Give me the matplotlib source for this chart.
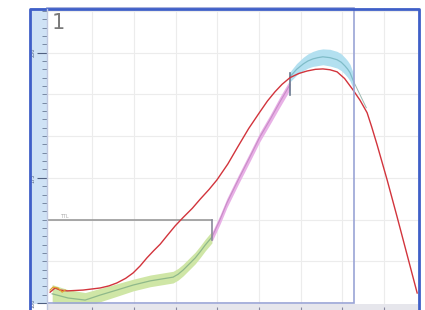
import matplotlib
matplotlib.use("Agg")
import matplotlib.pyplot as plt
from matplotlib.patches import Rectangle
import numpy as np

# x in minutes, y in grid units (one grid step per unit)
red_x = [-0.01, 0.11, 0.23, 0.40, 0.78, 1.19, 1.40, 1.59, 1.80, 1.98, 2.15, 2.31,
         2.47, 2.63, 2.80, 2.99, 3.18, 3.40, 3.59, 3.80, 3.99, 4.25, 4.50, 4.75,
         5.02, 5.20, 5.38, 5.55, 5.74, 5.95, 6.15, 6.35, 6.53, 6.70, 6.87, 7.05,
         7.25, 7.42, 7.59, 7.70, 7.83, 8.07, 8.31, 8.55, 8.79]
red_y = [0.26, 0.36, 0.31, 0.29, 0.31, 0.36, 0.41, 0.48, 0.59, 0.72, 0.89, 1.08,
         1.25, 1.41, 1.62, 1.85, 2.05, 2.27, 2.49, 2.72, 2.95, 3.33, 3.76, 4.18,
         4.58, 4.84, 5.06, 5.24, 5.40, 5.50, 5.56, 5.60, 5.61, 5.59, 5.54, 5.38,
         5.11, 4.86, 4.56, 4.22, 3.79, 2.95, 2.06, 1.15, 0.24]

orange_x = [-0.01, 0.06, 0.18, 0.28, 0.35]
orange_y = [0.31, 0.38, 0.36, 0.26, 0.31]

green_x = [0.04, 0.42, 0.83, 1.19, 1.59, 1.98, 2.39, 2.94, 3.06, 3.18, 3.32, 3.47,
           3.59, 3.71, 3.87]
green_y = [0.22, 0.12, 0.07, 0.19, 0.31, 0.43, 0.53, 0.62, 0.69, 0.79, 0.93, 1.08,
           1.23, 1.39, 1.58]
green_w = [0.22, 0.20, 0.18, 0.16, 0.15, 0.14, 0.14, 0.14, 0.14, 0.14, 0.14, 0.14,
           0.14, 0.14, 0.14]

pink_x = [3.87, 4.06, 4.23, 4.50, 4.78, 5.02, 5.26, 5.50, 5.74]
pink_y = [1.58, 1.99, 2.40, 2.95, 3.50, 3.98, 4.39, 4.82, 5.23]
pink_w = [0.11, 0.11, 0.11, 0.11, 0.11, 0.11, 0.11, 0.12, 0.12]

blue_x = [5.74, 5.90, 6.06, 6.17, 6.29, 6.41, 6.53, 6.70, 6.87, 6.97, 7.06, 7.12,
          7.18, 7.22, 7.27]
blue_y = [5.42, 5.60, 5.73, 5.80, 5.85, 5.88, 5.90, 5.88, 5.83, 5.77, 5.68, 5.61,
          5.52, 5.42, 5.30]
blue_w = [0.12, 0.14, 0.16, 0.17, 0.18, 0.19, 0.19, 0.20, 0.20, 0.20, 0.20, 0.20,
          0.20, 0.19, 0.19]
tail_x = [7.27, 7.42, 7.57]
tail_y = [5.30, 4.99, 4.68]

ttl_level = 1.99
ttl_end = 3.87
mark_x = 5.74
box_right = 7.28
ruler_labels = ["100", "175", "250"]

fig = plt.figure(figsize=(4.25, 3.10), dpi=100)
W, H = 425.0, 310.0
xlim = (-0.084, 8.81)
ylim = (-0.024, 7.07)

ax = fig.add_axes([47 / W, 6 / H, 371 / W, 296 / H])
ax.set_xlim(*xlim)
ax.set_ylim(*ylim)
for k in range(1, 9):
    ax.axvline(k, color="#ececec", lw=0.8, zorder=0)
for k in range(1, 8):
    ax.axhline(k, color="#ececec", lw=0.8, zorder=0)

# phase bands
ax.fill_between(green_x, np.array(green_y) - green_w, np.array(green_y) + green_w,
                color="#cfe6a6", lw=0, zorder=1)
ax.plot(green_x, green_y, color="#8fb88a", lw=0.9, zorder=2)
ax.fill_between(pink_x, np.array(pink_y) - pink_w, np.array(pink_y) + pink_w,
                color="#e8b0e6", lw=0, zorder=1)
ax.plot(pink_x, pink_y, color="#c98cc8", lw=0.8, zorder=2)
ax.fill_between(blue_x, np.array(blue_y) - blue_w, np.array(blue_y) + blue_w,
                color="#b3e0f0", lw=0, zorder=1)
ax.plot(blue_x, blue_y, color="#7fbcc8", lw=0.9, zorder=2)
ax.plot(tail_x, tail_y, color="#9cb8b0", lw=0.7, zorder=2)

# TTL line and markers
ax.plot([xlim[0], ttl_end], [ttl_level, ttl_level], color="#9a9a9a", lw=1.2, zorder=3)
ax.plot([ttl_end, ttl_end], [ttl_level, 1.50], color="#8a8a9a", lw=1.2, zorder=3)
ax.text(0.22, ttl_level + 0.03, "TTL", fontsize=3.5, color="#aaaaaa", va="bottom")
ax.plot([mark_x, mark_x], [4.99, 5.52], color="#6a7a90", lw=1.2, zorder=4)

ax.plot(red_x, red_y, color="#d2343c", lw=1.0, zorder=5)
ax.plot(orange_x, orange_y, color="#e0a030", lw=0.9, zorder=5)

# inner box
ax.add_patch(Rectangle((xlim[0], 0.0), box_right - xlim[0], ylim[1], fill=False,
                       ec="#9aa4d6", lw=1.2, zorder=6, clip_on=False))
ax.text(0.04, 6.95, "1", fontsize=15, color="#7a7a7a", va="top", ha="left")
ax.set_xticks([])
ax.set_yticks([])
for s in ax.spines.values():
    s.set_visible(False)

# left ruler
rax = fig.add_axes([30 / W, 6 / H, 17 / W, 296 / H])
rax.set_facecolor("#cfe2f5")
rax.set_xlim(0, 1)
rax.set_ylim(*ylim)
rax.yaxis.tick_right()
rax.set_yticks([0, 3, 6])
rax.set_yticks(np.arange(0, 7.1, 0.2), minor=True)
rax.tick_params(axis="y", which="both", labelright=False, labelleft=False,
                direction="in")
rax.tick_params(axis="y", which="major", length=7, width=0.8, color="#506080")
rax.tick_params(axis="y", which="minor", length=3.5, width=0.6, color="#6a7a96")
rax.set_xticks([])
for v, lab in zip([0, 3, 6], ruler_labels):
    rax.text(0.18, v, lab, rotation=90, fontsize=3.5, color="#506080",
             va="center", ha="center")
for s in rax.spines.values():
    s.set_visible(False)

# bottom strip
bax = fig.add_axes([47 / W, 0, 371 / W, 6 / H])
bax.set_facecolor("#e6e6ec")
bax.set_xlim(*xlim)
bax.set_xticks(range(1, 9))
bax.tick_params(axis="x", length=2, color="#8888a0", direction="in",
                labelbottom=False)
bax.set_yticks([])
for s in bax.spines.values():
    s.set_visible(False)

# outer blue frame
fig.add_artist(plt.Line2D([29.5 / W, 29.5 / W, 418.5 / W, 418.5 / W],
                          [0, 1 - 8.5 / H, 1 - 8.5 / H, 0],
                          transform=fig.transFigure, color="#3f5fc8", lw=2.0))
fig.add_artist(plt.Line2D([47 / W, 47 / W], [0, 1 - 9 / H],
                          transform=fig.transFigure, color="#c0c8e0", lw=1.0))

fig.savefig("out.png", dpi=100)
